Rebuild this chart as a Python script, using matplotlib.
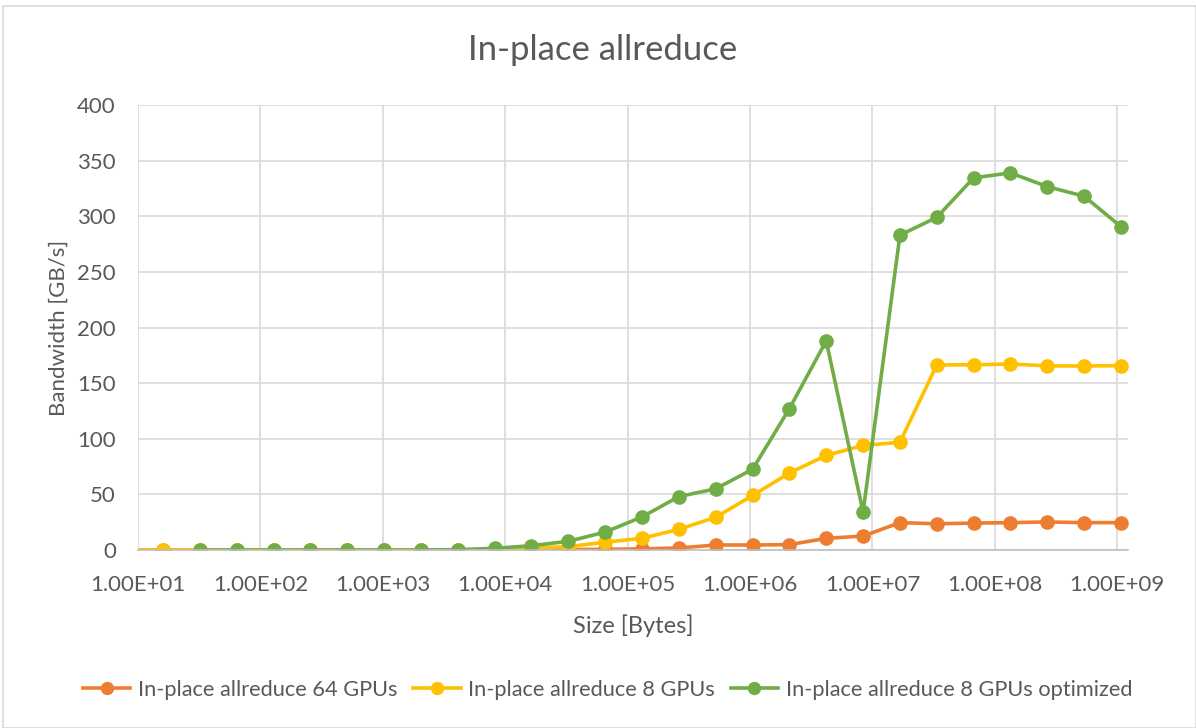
import matplotlib.pyplot as plt
import numpy as np
from matplotlib.patches import Rectangle

plt.rcParams['font.family'] = ['Lato', 'DejaVu Sans']

# message sizes: 8 B .. 1 GB, doubling
sizes = [8 * 2 ** k for k in range(28)]

bw_64 = [0, 0, 0, 0, 0, 0, 0, 0, 0, 0, 0.1, 0.2, 0.4, 0.6, 1, 1.8,
         4.5, 4.5, 4.8, 10.5, 12.5, 24.6, 23.6, 24.2, 24.6, 25.2, 24.6, 24.6]
bw_8 = [0, 0, 0, 0, 0, 0, 0, 0, 0, 0, 0.5, 1.8, 3, 7, 10.5, 18.6,
        29.4, 49, 69.2, 85, 94, 96.8, 166.3, 166.5, 167.2, 165.5, 165.4, 165.7]
bw_8_opt = [None, None, 0, 0, 0, 0, 0, 0, 0, 0.3, 1.5, 3.9, 7.8, 16.1, 29.7, 48,
            55, 72.5, 127, 188, 34, 283, 299, 334.5, 339, 326.6, 318, 290.6]

labels = ['In-place allreduce 64 GPUs', 'In-place allreduce 8 GPUs',
          'In-place allreduce 8 GPUs optimized']
colors = ['#ED7D31', '#FFC000', '#70AD47']
text_col = '#595959'

fig = plt.figure(figsize=(11.96, 7.28), dpi=100)
ax = fig.add_axes([138 / 1196, 1 - 550 / 728, (1128 - 138) / 1196, (550 - 105) / 728])

for ys, lab, c in zip([bw_64, bw_8, bw_8_opt], labels, colors):
    xs = [s for s, v in zip(sizes, ys) if v is not None]
    vs = [v for v in ys if v is not None]
    ax.plot(xs, vs, '-o', color=c, lw=2.6, ms=9.5, label=lab)

ax.set_xscale('log')
ax.set_xlim(10, 10 ** 9.088)
ax.set_ylim(0, 400)
decades = [10.0 ** k for k in range(1, 10)]
ax.xaxis.set_major_locator(plt.FixedLocator(decades))
ax.xaxis.set_minor_locator(plt.NullLocator())
ax.set_xticklabels([f'{d:.2E}' for d in decades])
ax.set_yticks(np.arange(0, 401, 50))

ax.grid(True, color='#D9D9D9', lw=1.2)
ax.set_axisbelow(True)
for s in ['top', 'right', 'left']:
    ax.spines[s].set_visible(False)
ax.spines['bottom'].set_color('#BFBFBF')
ax.spines['bottom'].set_linewidth(1.2)
ax.tick_params(length=0, labelsize=16, labelcolor=text_col)
ax.tick_params(axis='y', pad=16)
ax.tick_params(axis='x', pad=18)

ax.set_xlabel('Size [Bytes]', fontsize=17, color=text_col, labelpad=14)
ax.set_ylabel('Bandwidth [GB/s]', fontsize=16, color=text_col, labelpad=6)
fig.text(0.504, 1 - 50 / 728, 'In-place allreduce', ha='center', va='center',
         fontsize=25, color=text_col)

fig.legend(loc='center', bbox_to_anchor=(0.508, 1 - 690 / 728), ncol=3, frameon=False,
           fontsize=15.7, labelcolor=text_col, handlelength=2.2, handletextpad=0.35,
           columnspacing=0.7, markerscale=0.9)

fig.patches.append(Rectangle((3 / 1196, 0), 1 - 3 / 1196, 1 - 6 / 728,
                             transform=fig.transFigure, fill=False,
                             edgecolor='#D9D9D9', lw=1.2))

fig.savefig('out.png', dpi=100)
